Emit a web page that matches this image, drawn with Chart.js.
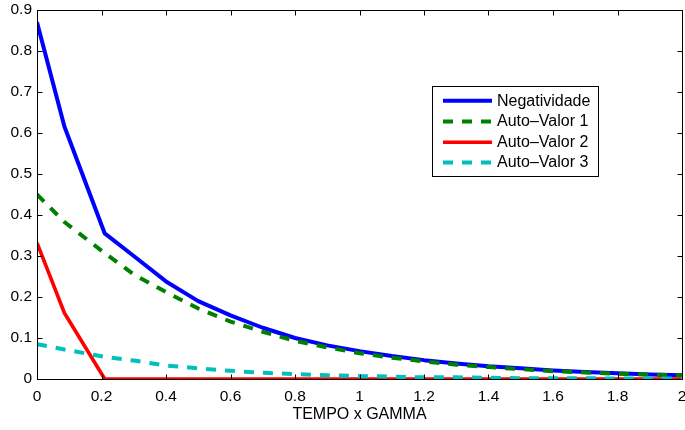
<!DOCTYPE html>
<html>
<head>
<meta charset="utf-8">
<script src="https://cdn.jsdelivr.net/npm/chart.js@4/dist/chart.umd.min.js"></script>
<style>
    html, body { margin: 0; padding: 0; background: #fff; }
    #wrap { width: 685px; height: 430px; }
</style>
</head>
<body>
<div id="wrap"><canvas id="graph" width="685" height="430"></canvas></div>
<script>
// time axis (TEMPO x GAMMA)
const tempo = [0, 0.085, 0.21, 0.3, 0.4, 0.5, 0.6, 0.7, 0.8, 0.9, 1.0, 1.1, 1.2, 1.3, 1.4, 1.5, 1.6, 1.7, 1.8, 1.9, 2.0];

// series
const negatividade = [0.87, 0.616, 0.355, 0.30, 0.238, 0.19, 0.155, 0.125, 0.10, 0.082, 0.068, 0.056, 0.046, 0.038, 0.031, 0.026, 0.021, 0.017, 0.014, 0.011, 0.009];
const autoValor1 = [0.45, 0.383, 0.307, 0.255, 0.212, 0.172, 0.14, 0.115, 0.093, 0.077, 0.063, 0.052, 0.043, 0.035, 0.029, 0.024, 0.019, 0.016, 0.013, 0.011, 0.009];
const autoValor2 = [0.332, 0.161, 0, 0, 0, 0, 0, 0, 0, 0, 0, 0, 0, 0, 0, 0, 0, 0, 0, 0, 0];
const autoValor3 = [0.085, 0.072, 0.054, 0.045, 0.033, 0.026, 0.02, 0.015, 0.012, 0.009, 0.007, 0.006, 0.004, 0.004, 0.003, 0.002, 0.002, 0.002, 0.001, 0.001, 0.001];

const seriesNames = ['Negatividade', 'Auto\u2013Valor 1', 'Auto\u2013Valor 2', 'Auto\u2013Valor 3'];
const xTicks = [0, 0.2, 0.4, 0.6, 0.8, 1, 1.2, 1.4, 1.6, 1.8, 2];
const yTicks = [0, 0.1, 0.2, 0.3, 0.4, 0.5, 0.6, 0.7, 0.8, 0.9];

const FONT = "'Liberation Sans', Arial, Helvetica, sans-serif";

function toPoints(values) {
    return tempo.map((t, i) => ({ x: t, y: values[i] }));
}

function fmt(v) {
    return String(Number(v.toFixed(1)));
}

// MATLAB style box, inward ticks and legend inside the axes
const matlabBox = {
    id: 'matlabBox',
    afterDraw(chart) {
        const ctx = chart.ctx;
        const area = chart.chartArea;
        const sx = chart.scales.x;
        const sy = chart.scales.y;
        const L = Math.round(area.left) + 0.5;
        const R = Math.round(area.right) + 0.5;
        const T = Math.round(area.top) + 0.5;
        const B = Math.round(area.bottom) + 0.5;
        const tl = 5;

        ctx.save();
        ctx.strokeStyle = '#000';
        ctx.lineWidth = 1;
        ctx.strokeRect(L, T, R - L, B - T);

        ctx.beginPath();
        xTicks.forEach(v => {
            const px = Math.round(sx.getPixelForValue(v)) + 0.5;
            ctx.moveTo(px, B); ctx.lineTo(px, B - tl);
            ctx.moveTo(px, T); ctx.lineTo(px, T + tl);
        });
        yTicks.forEach(v => {
            const py = Math.round(sy.getPixelForValue(v)) + 0.5;
            ctx.moveTo(L, py); ctx.lineTo(L + tl, py);
            ctx.moveTo(R, py); ctx.lineTo(R - tl, py);
        });
        ctx.stroke();

        // legend
        const bx = 432.5, by = 86.5, bw = 166, bh = 90;
        ctx.fillStyle = '#fff';
        ctx.fillRect(bx, by, bw, bh);
        ctx.strokeRect(bx, by, bw, bh);
        ctx.font = '16px ' + FONT;
        ctx.textBaseline = 'middle';
        ctx.textAlign = 'left';
        const rows = [100.7, 121.5, 142.2, 162.5];
        chart.data.datasets.forEach((ds, i) => {
            const y = rows[i];
            ctx.beginPath();
            ctx.strokeStyle = ds.borderColor;
            ctx.lineWidth = ds.borderWidth;
            ctx.setLineDash(ds.borderDash || []);
            ctx.moveTo(443, y);
            ctx.lineTo(492, y);
            ctx.stroke();
            ctx.setLineDash([]);
            ctx.fillStyle = '#000';
            ctx.fillText(ds.label, 497, y + 0.5);
        });
        ctx.restore();
    }
};

const ctx = document.getElementById('graph').getContext('2d');
new Chart(ctx, {
    type: 'line',
    data: {
        datasets: [
            { label: seriesNames[0], data: toPoints(negatividade), borderColor: '#0000ff', borderWidth: 4, order: 3 },
            { label: seriesNames[1], data: toPoints(autoValor1), borderColor: '#008000', borderWidth: 4, borderDash: [10, 9], order: 2 },
            { label: seriesNames[2], data: toPoints(autoValor2), borderColor: '#ff0000', borderWidth: 3.6, order: 1 },
            { label: seriesNames[3], data: toPoints(autoValor3), borderColor: '#00bfbf', borderWidth: 4, borderDash: [10, 9], order: 0 }
        ]
    },
    options: {
        responsive: false,
        animation: false,
        devicePixelRatio: 1,
        elements: {
            point: { radius: 0 },
            line: { tension: 0, fill: false, borderCapStyle: 'butt', borderJoinStyle: 'round' }
        },
        layout: { padding: { top: 10, right: 3, left: 0, bottom: 0 } },
        plugins: {
            legend: { display: false },
            tooltip: { enabled: false }
        },
        scales: {
            x: {
                type: 'linear',
                min: 0,
                max: 2,
                grid: { display: false, drawTicks: false },
                border: { display: false },
                afterBuildTicks: s => { s.ticks = xTicks.map(v => ({ value: v })); },
                afterFit: s => { s.height = 51; s.paddingLeft = 0; s.paddingRight = 0; },
                ticks: {
                    color: '#000',
                    padding: 8,
                    autoSkip: false,
                    maxRotation: 0,
                    font: { family: FONT, size: 15.5 },
                    callback: v => fmt(v)
                },
                title: {
                    display: true,
                    text: 'TEMPO x GAMMA',
                    color: '#000',
                    font: { family: FONT, size: 16 },
                    padding: { top: 0, bottom: 6 }
                }
            },
            y: {
                min: 0,
                max: 0.9,
                grid: { display: false, drawTicks: false },
                border: { display: false },
                afterBuildTicks: s => { s.ticks = yTicks.map(v => ({ value: v })); },
                afterFit: s => { s.width = 37; s.paddingTop = 0; s.paddingBottom = 0; },
                ticks: {
                    color: '#000',
                    padding: 5,
                    autoSkip: false,
                    font: { family: FONT, size: 15.5 },
                    callback: v => fmt(v)
                }
            }
        }
    },
    plugins: [matlabBox]
});
</script>
</body>
</html>
